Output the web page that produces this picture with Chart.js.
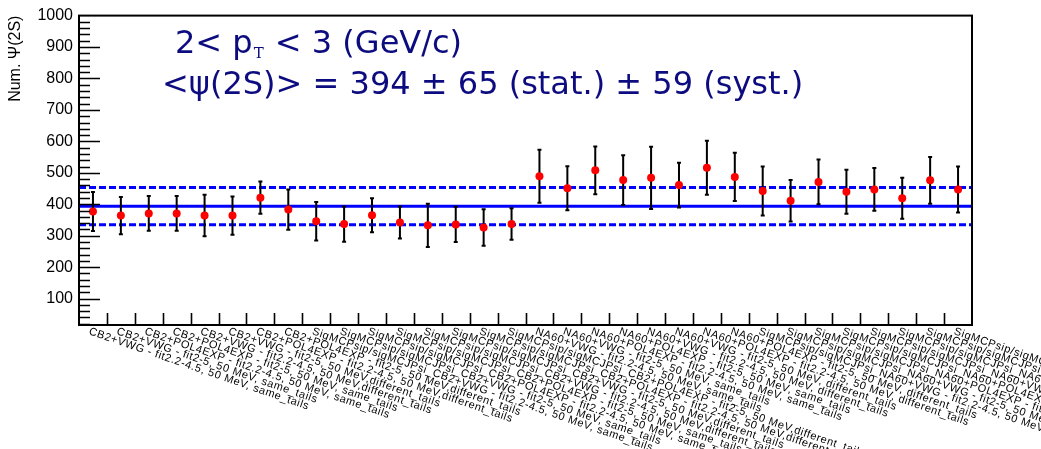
<!DOCTYPE html>
<html>
<head>
<meta charset="utf-8">
<script src="https://cdn.jsdelivr.net/npm/chart.js@4.4.0/dist/chart.umd.min.js"></script>
<style>
  html, body { margin: 0; padding: 0; background: #fff; }
  #wrap { width: 1041px; height: 449px; position: relative; }
</style>
</head>
<body>
<div id="wrap"><canvas id="psiChart"></canvas></div>
<script>
// fit variants, one bin each
const labels = [
    "CB2+VWG - fit2.2-4.5, 50 MeV, same_tails",
    "CB2+VWG - fit2-5, 50 MeV, same_tails",
    "CB2+POL4EXP - fit2.2-4.5, 50 MeV, same_tails",
    "CB2+POL4EXP - fit2-5, 50 MeV, same_tails",
    "CB2+VWG - fit2.2-4.5, 50 MeV,different_tails",
    "CB2+VWG - fit2-5, 50 MeV,different_tails",
    "CB2+POL4EXP - fit2.2-4.5, 50 MeV,different_tails",
    "CB2+POL4EXP - fit2-5, 50 MeV,different_tails",
    "SigMCPsip/sigMCJPsi_CB2+VWG - fit2.2-4.5, 50 MeV, same_tails",
    "SigMCPsip/sigMCJPsi_CB2+VWG - fit2-5, 50 MeV, same_tails",
    "SigMCPsip/sigMCJPsi_CB2+POL4EXP - fit2.2-4.5, 50 MeV, same_tails",
    "SigMCPsip/sigMCJPsi_CB2+POL4EXP - fit2-5, 50 MeV, same_tails",
    "SigMCPsip/sigMCJPsi_CB2+VWG - fit2.2-4.5, 50 MeV,different_tails",
    "SigMCPsip/sigMCJPsi_CB2+VWG - fit2-5, 50 MeV,different_tails",
    "SigMCPsip/sigMCJPsi_CB2+POL4EXP - fit2.2-4.5, 50 MeV,different_tails",
    "SigMCPsip/sigMCJPsi_CB2+POL4EXP - fit2-5, 50 MeV,different_tails",
    "NA60+VWG - fit2.2-4.5, 50 MeV, same_tails",
    "NA60+VWG - fit2-5, 50 MeV, same_tails",
    "NA60+POL4EXP - fit2.2-4.5, 50 MeV, same_tails",
    "NA60+POL4EXP - fit2-5, 50 MeV, same_tails",
    "NA60+VWG - fit2.2-4.5, 50 MeV, different_tails",
    "NA60+VWG - fit2-5, 50 MeV, different_tails",
    "NA60+POL4EXP - fit2.2-4.5, 50 MeV, different_tails",
    "NA60+POL4EXP - fit2-5, 50 MeV, different_tails",
    "SigMCPsip/sigMCJPsi_NA60+VWG - fit2.2-4.5, 50 MeV, same_tails",
    "SigMCPsip/sigMCJPsi_NA60+VWG - fit2-5, 50 MeV, same_tails",
    "SigMCPsip/sigMCJPsi_NA60+POL4EXP - fit2.2-4.5, 50 MeV, same_tails",
    "SigMCPsip/sigMCJPsi_NA60+POL4EXP - fit2-5, 50 MeV, same_tails",
    "SigMCPsip/sigMCJPsi_NA60+VWG - fit2.2-4.5, 50 MeV,different_tails",
    "SigMCPsip/sigMCJPsi_NA60+VWG - fit2-5, 50 MeV,different_tails",
    "SigMCPsip/sigMCJPsi_NA60+POL4EXP - fit2.2-4.5, 50 MeV,different_tails",
    "SigMCPsip/sigMCJPsi_NA60+POL4EXP - fit2-5, 50 MeV,different_tails"
];

const values = [377, 364, 371, 371, 364, 364, 421, 383, 346, 337, 365, 342, 333, 336, 326, 337,
                489, 451, 508, 477, 484, 461, 516, 487, 442, 411, 471, 440, 447, 419, 476, 447];
const statErr = [62, 59, 55, 55, 66, 61, 51, 64, 61, 56, 54, 51, 69, 56, 58, 50,
                 84, 70, 76, 79, 99, 71, 86, 77, 78, 66, 71, 70, 68, 65, 74, 73];

const meanValue = 394;
const meanStat = 65;
const meanSyst = 59;

const yMin = 16;
const yMax = 1000;
const yMajorTicks = [100, 200, 300, 400, 500, 600, 700, 800, 900, 1000];

const nBins = labels.length;
const titleColor = "#0c0c80";

// points sit in the middle of their bin
const pointData = values.map((v, i) => ({ x: i + 0.5, y: v }));
const hLine = (v) => [{ x: 0, y: v }, { x: nBins, y: v }];

// error bars + frame, ticks, rotated bin labels and the result text
const rootStyle = {
    id: "rootStyle",
    beforeDatasetDraw(chart, args) {
        if (args.index !== 0) return;
        const { ctx, scales: { x, y } } = chart;
        ctx.save();
        ctx.strokeStyle = "#000";
        ctx.lineWidth = 2;
        values.forEach((v, i) => {
            const px = x.getPixelForValue(i + 0.5);
            const top = y.getPixelForValue(v + statErr[i]);
            const bot = y.getPixelForValue(v - statErr[i]);
            ctx.beginPath();
            ctx.moveTo(px, top); ctx.lineTo(px, bot);
            ctx.moveTo(px - 2, top); ctx.lineTo(px + 2, top);
            ctx.moveTo(px - 2, bot); ctx.lineTo(px + 2, bot);
            ctx.stroke();
        });
        ctx.restore();
    },
    afterDraw(chart) {
        const { ctx, chartArea: a, scales: { x, y } } = chart;
        ctx.save();

        // frame
        ctx.strokeStyle = "#000";
        ctx.lineWidth = 2;
        ctx.strokeRect(a.left, a.top, a.right - a.left, a.bottom - a.top);

        // y ticks, pointing inwards
        ctx.beginPath();
        for (let v = 20; v < yMax; v += 20) {
            if (v < yMin) continue;
            const py = Math.round(y.getPixelForValue(v)) + 0.5;
            const len = v % 100 === 0 ? 21 : 11;
            ctx.moveTo(a.left, py);
            ctx.lineTo(a.left + len, py);
        }
        // x ticks on the bin edges
        for (let i = 1; i < nBins; i++) {
            const px = Math.round(x.getPixelForValue(i)) + 0.5;
            ctx.moveTo(px, a.bottom);
            ctx.lineTo(px, a.bottom - 12);
        }
        ctx.lineWidth = 1.6;
        ctx.stroke();

        // bin labels, slanted down to the right
        ctx.fillStyle = "#000";
        ctx.font = "11px 'Liberation Sans', Arial, sans-serif";
        ctx.letterSpacing = "0.6px";
        ctx.textAlign = "left";
        ctx.textBaseline = "top";
        labels.forEach((t, i) => {
            const px = x.getPixelForValue(i + 0.5);
            ctx.save();
            ctx.translate(px - 2, a.bottom + 1);
            ctx.rotate(19 * Math.PI / 180);
            ctx.fillText(t, 0, 0);
            ctx.restore();
        });
        ctx.letterSpacing = "0px";

        // result text
        ctx.fillStyle = titleColor;
        ctx.textBaseline = "alphabetic";
        const big = "32px 'DejaVu Sans', sans-serif";
        ctx.font = big;
        let tx = 175;
        const ty1 = 53;
        ctx.fillText("2< p", tx, ty1);
        tx += ctx.measureText("2< p").width + 1;
        ctx.font = "15px 'DejaVu Serif', serif";
        ctx.fillText("T", tx, ty1 + 5);
        tx += ctx.measureText("T").width + 1;
        ctx.font = big;
        ctx.fillText(" < 3 (GeV/c)", tx, ty1);

        ctx.fillText("<\u03C8(2S)> = " + meanValue + " \u00B1 " + meanStat +
                     " (stat.) \u00B1 " + meanSyst + " (syst.)", 162, 94);
        ctx.restore();
    }
};

const ctx = document.getElementById("psiChart").getContext("2d");
const psiChart = new Chart(ctx, {
    type: "scatter",
    data: {
        datasets: [
            {
                label: "fits",
                data: pointData,
                backgroundColor: "#ff0000",
                borderColor: "#ff0000",
                borderWidth: 0,
                pointRadius: 4,
                order: 0
            },
            {
                label: "mean",
                type: "line",
                data: hLine(meanValue),
                borderColor: "#0000ff",
                borderWidth: 3,
                pointRadius: 0,
                order: 1
            },
            {
                label: "mean + syst",
                type: "line",
                data: hLine(meanValue + meanSyst),
                borderColor: "#0000ff",
                borderWidth: 3,
                borderDash: [7, 3],
                pointRadius: 0,
                order: 2
            },
            {
                label: "mean - syst",
                type: "line",
                data: hLine(meanValue - meanSyst),
                borderColor: "#0000ff",
                borderWidth: 3,
                borderDash: [7, 3],
                pointRadius: 0,
                order: 3
            }
        ]
    },
    options: {
        responsive: true,
        maintainAspectRatio: false,
        animation: false,
        layout: { padding: { top: 12, right: 69, bottom: 124, left: 0 } },
        plugins: {
            legend: { display: false },
            tooltip: { enabled: false }
        },
        scales: {
            x: {
                type: "linear",
                min: 0,
                max: nBins,
                display: false
            },
            y: {
                type: "linear",
                min: yMin,
                max: yMax,
                afterFit(scale) { scale.width = 79; },
                afterBuildTicks(scale) {
                    scale.ticks = yMajorTicks.map(v => ({ value: v }));
                },
                ticks: {
                    color: "#000",
                    padding: 6,
                    callback: (v) => String(v),
                    font: { family: "'Liberation Sans', Arial, sans-serif", size: 16 }
                },
                grid: { display: false, drawTicks: false },
                border: { display: false },
                title: {
                    display: true,
                    text: "Num. \u03A8(2S)",
                    align: "end",
                    color: "#000",
                    padding: { top: 6, bottom: 0 },
                    font: { family: "'Liberation Sans', Arial, sans-serif", size: 16 }
                }
            }
        }
    },
    plugins: [rootStyle]
});
</script>
</body>
</html>
